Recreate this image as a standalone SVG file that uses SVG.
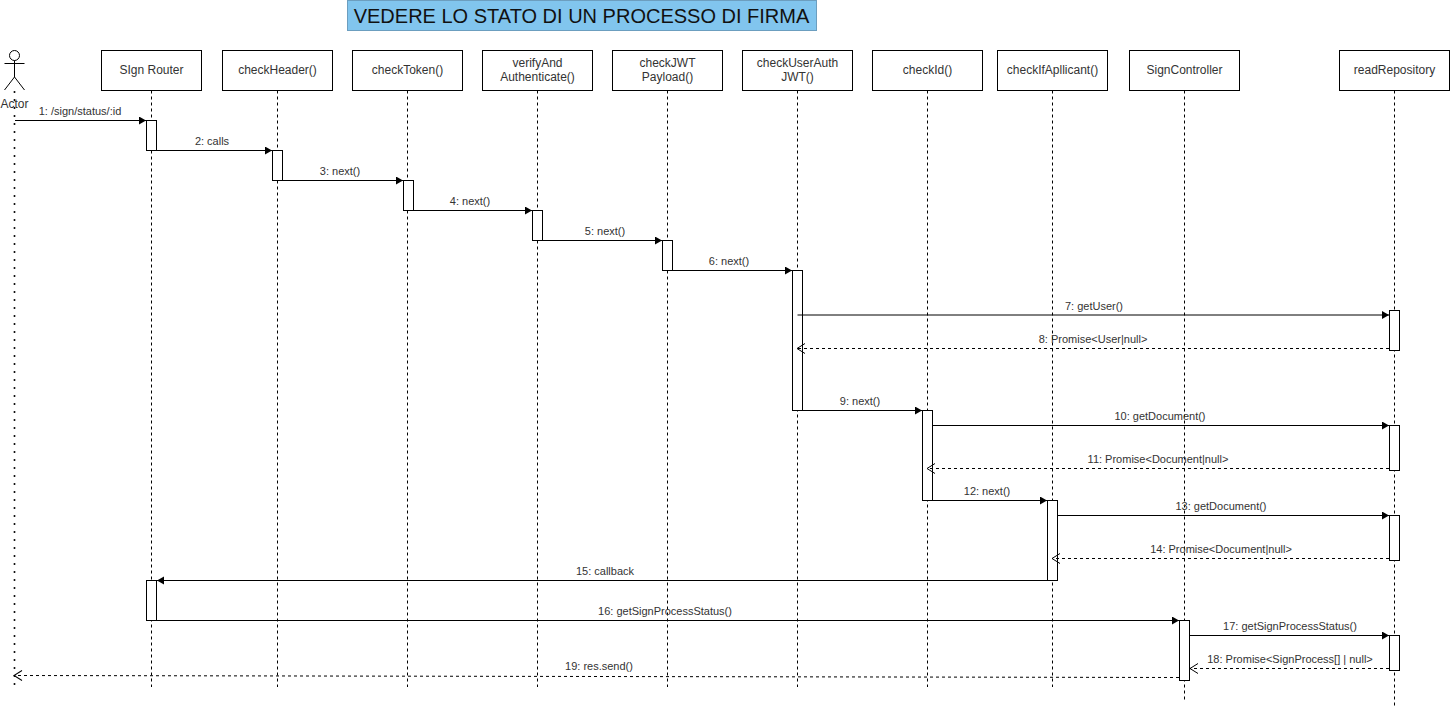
<svg xmlns="http://www.w3.org/2000/svg" width="1450" height="707" viewBox="0 0 1450 707">
<style>
text{font-family:"Liberation Sans",Arial,sans-serif;fill:#333;text-anchor:middle}
.n{fill:#fff;stroke:#000;stroke-width:1}
.l{stroke:#000;stroke-width:1;stroke-dasharray:3 3;fill:none}
.a{fill:#fff;stroke:#000;stroke-width:1}
.m{stroke:#000;stroke-width:1;fill:none;marker-end:url(#s)}
.r{stroke:#000;stroke-width:1;fill:none;stroke-dasharray:3 3;marker-end:url(#o)}
.t{font-size:12px}
.b{font-size:11px}
</style>
<defs>
<marker id="s" markerUnits="userSpaceOnUse" markerWidth="10" markerHeight="10" refX="8" refY="4" orient="auto"><path d="M1 0L8 4L1 8Z" fill="#000"/></marker>
<marker id="o" markerUnits="userSpaceOnUse" markerWidth="11" markerHeight="12" refX="9" refY="5.500" orient="auto" overflow="visible"><path d="M1 .5L9 5.500L1 10.500" fill="none" stroke="#000"/></marker>
</defs>
<rect width="1450" height="707" fill="#fff"/>
<g id="title"><rect x="347.500" y="0.500" width="469" height="30" fill="#81c5ee" stroke="#6c9ebf"/><text x="581.500" y="23" style="font-size:20px;fill:#111">VEDERE LO STATO DI UN PROCESSO DI FIRMA</text></g>
<g id="actor"><circle cx="14.500" cy="55.500" r="5" fill="none" stroke="#000"/><path d="M14.500 60.500V77M4.500 63.500H24.500M14.500 77L4.500 90M14.500 77L24.500 90" fill="none" stroke="#000"/><path d="M14.500 92V686" fill="none" stroke="#000" stroke-width="2" stroke-linecap="round" stroke-dasharray="0 8"/><text x="14.500" y="108" class="t">Actor</text></g>
<g id="signRouter"><rect class="n" x="101.500" y="50.500" width="100" height="40"/><text x="151.500" y="74" class="t">SIgn Router</text><path class="l" d="M151.500 90.500V687"/><rect class="a" x="146.500" y="120.500" width="10" height="30"/><rect class="a" x="146.500" y="580.500" width="10" height="40"/></g>
<g id="checkHeader"><rect class="n" x="222.500" y="50.500" width="110" height="40"/><text x="277.500" y="74" class="t">checkHeader()</text><path class="l" d="M277.500 90.500V687"/><rect class="a" x="272.500" y="150.500" width="10" height="30"/></g>
<g id="checkToken"><rect class="n" x="352.500" y="50.500" width="110" height="40"/><text x="407.500" y="74" class="t">checkToken()</text><path class="l" d="M407.500 90.500V687"/><rect class="a" x="403.500" y="180.500" width="10" height="30"/></g>
<g id="verifyAndAuthenticate"><rect class="n" x="482.500" y="50.500" width="110" height="40"/><text x="537.500" y="67" class="t">verifyAnd</text><text x="537.500" y="81" class="t">Authenticate()</text><path class="l" d="M537.500 90.500V687"/><rect class="a" x="532.500" y="210.500" width="10" height="30"/></g>
<g id="checkJWTPayload"><rect class="n" x="612.500" y="50.500" width="110" height="40"/><text x="667.500" y="67" class="t">checkJWT</text><text x="667.500" y="81" class="t">Payload()</text><path class="l" d="M667.500 90.500V687"/><rect class="a" x="662.500" y="240.500" width="10" height="30"/></g>
<g id="checkUserAuthJWT"><rect class="n" x="742.500" y="50.500" width="110" height="40"/><text x="797.500" y="67" class="t">checkUserAuth</text><text x="797.500" y="81" class="t">JWT()</text><path class="l" d="M797.500 90.500V687"/><rect class="a" x="792.500" y="270.500" width="10" height="140"/></g>
<g id="checkId"><rect class="n" x="872.500" y="50.500" width="110" height="40"/><text x="927.500" y="74" class="t">checkId()</text><path class="l" d="M927.500 90.500V687"/><rect class="a" x="922.500" y="410.500" width="10" height="90"/></g>
<g id="checkIfApllicant"><rect class="n" x="997.500" y="50.500" width="110" height="40"/><text x="1052.500" y="74" class="t">checkIfApllicant()</text><path class="l" d="M1052.500 90.500V687"/><rect class="a" x="1047.500" y="500.500" width="10" height="80"/></g>
<g id="signController"><rect class="n" x="1129.500" y="50.500" width="110" height="40"/><text x="1184.500" y="74" class="t">SignController</text><path class="l" d="M1184.500 90.500V700"/><rect class="a" x="1179.500" y="620.500" width="10" height="60"/></g>
<g id="readRepository"><rect class="n" x="1339.500" y="50.500" width="110" height="40"/><text x="1394.500" y="74" class="t">readRepository</text><path class="l" d="M1394.500 90.500V706"/><rect class="a" x="1389.500" y="310.500" width="10" height="40"/><rect class="a" x="1389.500" y="425.500" width="10" height="45"/><rect class="a" x="1389.500" y="515.500" width="10" height="45"/><rect class="a" x="1389.500" y="635.500" width="10" height="35"/></g>
<g id="connectors">
<path class="m" d="M15 120.500H146"/>
<path class="m" d="M157 150.500H272"/>
<path class="m" d="M283 180.500H403"/>
<path class="m" d="M414 210.500H532"/>
<path class="m" d="M543 240.500H662"/>
<path class="m" d="M673 270.500H792"/>
<path class="m" d="M797.500 315H1389"/>
<path class="r" d="M1389 348.500H797"/>
<path class="m" d="M803 410.500H922"/>
<path class="m" d="M933 425.500H1389"/>
<path class="r" d="M1389 468.500H927"/>
<path class="m" d="M933 500.500H1047"/>
<path class="m" d="M1058 515.500H1389"/>
<path class="r" d="M1389 558.500H1052"/>
<path class="m" d="M1047 580.500H157"/>
<path class="m" d="M157 620.500H1179"/>
<path class="m" d="M1190 635.500H1389"/>
<path class="r" d="M1389 668.500H1190"/>
<path class="r" d="M1179 677.500L14 675.500"/>
</g>
<g id="labels" class="b">
<text class="b" x="80" y="115">1: /sign/status/:id</text>
<text class="b" x="212" y="145">2: calls</text>
<text class="b" x="340" y="175">3: next()</text>
<text class="b" x="470" y="205">4: next()</text>
<text class="b" x="605" y="235">5: next()</text>
<text class="b" x="729" y="265">6: next()</text>
<text class="b" x="1094" y="310">7: getUser()</text>
<text class="b" x="1093" y="343">8: Promise&lt;User|null&gt;</text>
<text class="b" x="860" y="405">9: next()</text>
<text class="b" x="1160" y="420">10: getDocument()</text>
<text class="b" x="1158" y="463">11: Promise&lt;Document|null&gt;</text>
<text class="b" x="987" y="495">12: next()</text>
<text class="b" x="1221" y="510">13: getDocument()</text>
<text class="b" x="1221" y="553">14: Promise&lt;Document|null&gt;</text>
<text class="b" x="605" y="575">15: callback</text>
<text class="b" x="665" y="615">16: getSignProcessStatus()</text>
<text class="b" x="1290" y="630">17: getSignProcessStatus()</text>
<text class="b" x="1290" y="663">18: Promise&lt;SignProcess[] | null&gt;</text>
<text class="b" x="599" y="670">19: res.send()</text>
</g>
</svg>
